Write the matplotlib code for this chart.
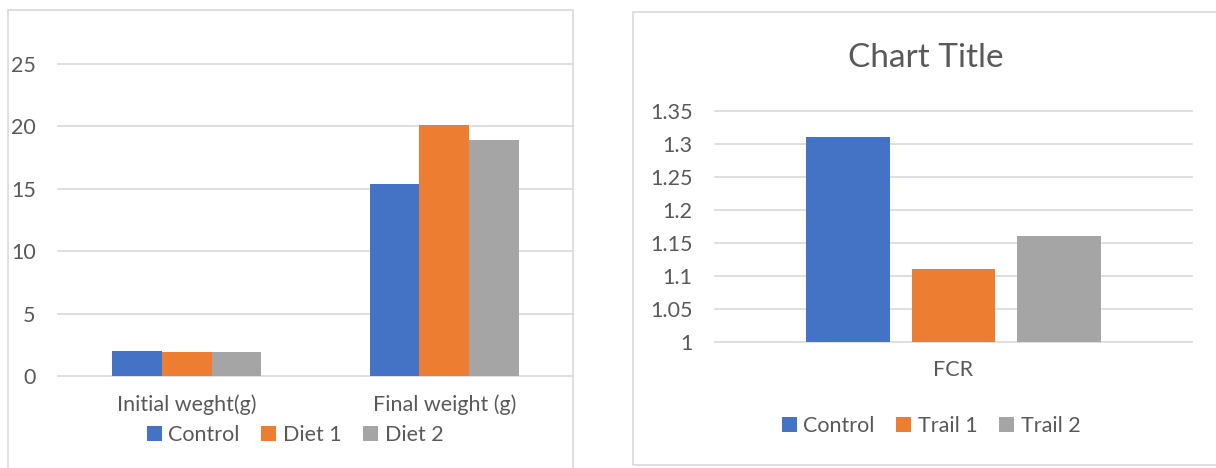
import numpy as np
import matplotlib
matplotlib.use('Agg')
import matplotlib.pyplot as plt
from matplotlib.patches import Rectangle

plt.rcParams.update({
    'font.family': ['Lato', 'DejaVu Sans'],
    'text.color': '#595959',
    'xtick.color': '#595959',
    'ytick.color': '#595959',
})

BLUE   = '#4472C4'
ORANGE = '#ED7D31'
GRAY   = '#A5A5A5'
GRID   = '#D9D9D9'
FS     = 15.5

# weight data
weight_cats   = ['Initial weght(g)', 'Final weight (g)']
weight_series = ['Control', 'Diet 1', 'Diet 2']
w_control = [2.0, 15.4]
w_diet1   = [1.9, 20.1]
w_diet2   = [1.9, 18.9]
weight_ticks = [0, 5, 10, 15, 20, 25]

# FCR data
fcr_cat    = ['FCR']
fcr_series = ['Control', 'Trail 1', 'Trail 2']
fcr_values = [1.31, 1.11, 1.16]
fcr_ticks  = [1, 1.05, 1.1, 1.15, 1.2, 1.25, 1.3, 1.35]
fcr_labels = ['1', '1.05', '1.1', '1.15', '1.2', '1.25', '1.3', '1.35']

W, H = 1216, 468
fig = plt.figure(figsize=(W / 100, H / 100), dpi=100)


def px_box(x0, y0, x1, y1):
    return [x0 / W, 1 - y1 / H, (x1 - x0) / W, (y1 - y0) / H]


def style_axis(ax):
    for s in ax.spines.values():
        s.set_visible(False)
    ax.yaxis.grid(True, color=GRID, lw=1.2)
    ax.set_axisbelow(True)
    for gl in ax.get_ygridlines():
        gl.set_clip_on(False)
    ax.tick_params(axis='both', length=0, labelsize=FS)
    ax.tick_params(axis='y', pad=16)


# panel frames (left one runs off the bottom, right one off the right side)
fig.patches.append(Rectangle((8 / W, -0.05), 565 / W, 1.05 - 10 / H,
                             transform=fig.transFigure, fill=False,
                             edgecolor=GRID, lw=1.2))
fig.patches.append(Rectangle((633 / W, 1 - 465 / H), 0.5, (465 - 12) / H,
                             transform=fig.transFigure, fill=False,
                             edgecolor=GRID, lw=1.2))

# left: weights
ax1 = fig.add_axes(px_box(58, 63.5, 573, 376))
x = np.arange(len(weight_cats))
bw = 0.193
for i, (vals, col, lab) in enumerate(zip([w_control, w_diet1, w_diet2],
                                         [BLUE, ORANGE, GRAY], weight_series)):
    ax1.bar(x + (i - 1) * bw, vals, bw, color=col, label=lab)
ax1.set_xlim(-0.5, 1.5)
ax1.set_ylim(0, 25)
ax1.set_yticks(weight_ticks)
ax1.set_xticks(x)
ax1.set_xticklabels(weight_cats)
style_axis(ax1)
ax1.tick_params(axis='x', pad=13)
h1, l1 = ax1.get_legend_handles_labels()
fig.legend(h1, l1, loc='center', bbox_to_anchor=(295 / W, 1 - 435 / H),
           ncol=3, frameon=False, fontsize=FS, handlelength=0.7,
           handleheight=0.7, handletextpad=0.3, columnspacing=1.0)

# right: FCR
ax2 = fig.add_axes(px_box(715, 110.7, 1192, 342))
bw2 = 0.176
step = 0.221
for i, (val, col, lab) in enumerate(zip(fcr_values, [BLUE, ORANGE, GRAY], fcr_series)):
    ax2.bar((i - 1) * step, val - 1, bw2, bottom=1, color=col, label=lab)
ax2.set_xlim(-0.5, 0.5)
ax2.set_ylim(1, 1.35)
ax2.set_yticks(fcr_ticks)
ax2.set_yticklabels(fcr_labels)
ax2.set_xticks([0])
ax2.set_xticklabels(fcr_cat)
style_axis(ax2)
ax2.tick_params(axis='x', pad=13)
fig.text(926 / W, 1 - 58 / H, 'Chart Title', ha='center', va='center',
         fontsize=24, color='#595959')
h2, l2 = ax2.get_legend_handles_labels()
fig.legend(h2, l2, loc='center', bbox_to_anchor=(931 / W, 1 - 426 / H),
           ncol=3, frameon=False, fontsize=FS, handlelength=0.7,
           handleheight=0.7, handletextpad=0.3, columnspacing=1.0)

fig.savefig('out.png', dpi=100, facecolor='white')
